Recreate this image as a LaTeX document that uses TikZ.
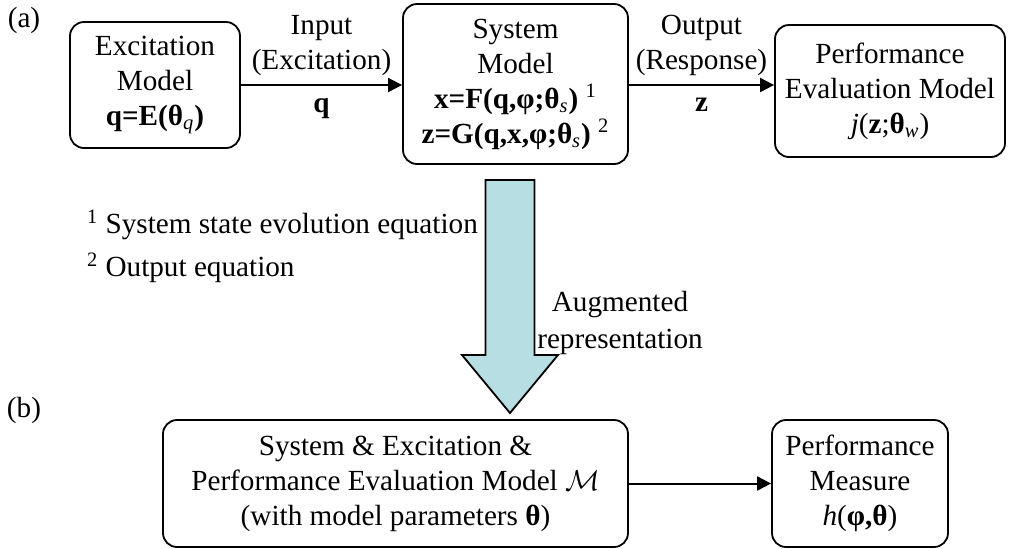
\documentclass[tikz,border=0pt]{standalone}
\usepackage{fontspec}
\setmainfont{Liberation Serif}
\usepackage{amsmath}
\usetikzlibrary{arrows.meta, positioning, calc}
\definecolor{augblue}{RGB}{183,222,227}

\begin{document}
\begin{tikzpicture}[
    x=0.5pt, y=-0.5pt,
    font=\fontsize{14.6}{17.5}\selectfont,
    >={Triangle[length=7pt, width=7pt]},
    % --- styles ---
    model_box/.style={draw, line width=0.9pt, rounded corners=7pt, align=center, inner sep=2pt},
    flow_arrow/.style={->, line width=1pt},
    aug_arrow/.style={draw, line width=0.9pt, fill=augblue},
    flow_label/.style={align=center, inner sep=2pt}
]
\useasboundingbox (0,0) rectangle (1012,548);

% ==================== (a) original description ====================
\node (LblA) at (24,20) {(a)};

\node[model_box, minimum width=85pt, minimum height=63pt] (Exc) at (155,85)
    {Excitation\\Model\\\textbf{q=E(θ}\textsubscript{\textit{q}}\textbf{)}};

\node[model_box, minimum width=112.5pt, minimum height=80pt] (Sys) at (515.5,84)
    {System\\Model\\
     \textbf{x=F(q,φ;θ}\textsubscript{\textit{s}}\textbf{)} \textsuperscript{1}\\
     \textbf{z=G(q,x,φ;θ}\textsubscript{\textit{s}}\textbf{)} \textsuperscript{2}};

\node[model_box, minimum width=115pt, minimum height=66pt] (Perf) at (890,91)
    {Performance\\Evaluation Model\\
     \textit{j}(\textbf{z};\textbf{θ}\textsubscript{\textit{w}})};

% --- signal arrows ---
\draw[flow_arrow] (Exc.east) -- (Exc.east -| Sys.west)
    node[midway, above=2pt, flow_label] {Input\\(Excitation)}
    node[midway, below=4pt, flow_label] {\textbf{q}};
\draw[flow_arrow] (Sys.east |- Exc.east) -- (Exc.east -| Perf.west)
    node[midway, above=2pt, flow_label] {Output\\(Response)}
    node[midway, below=4pt, flow_label] {\textbf{z}};

% --- footnotes ---
\node[anchor=west] (Fn1) at (80,225) {\textsuperscript{1} System state evolution equation};
\node[anchor=west] (Fn2) at (80,268) {\textsuperscript{2} Output equation};

% ==================== augmented representation ====================
\coordinate (AugTop) at (510,180);
\coordinate (AugTip) at (510,413);
\draw[aug_arrow] ($(AugTop)+(-24.5,0)$) -- ($(AugTop)+(24.5,0)$)
    -- ($(AugTip)+(24.5,-58)$) -- ($(AugTip)+(48,-58)$) -- (AugTip)
    -- ($(AugTip)+(-48,-58)$) -- ($(AugTip)+(-24.5,-58)$) -- cycle;
\node[flow_label] (AugLbl) at (620,323) {Augmented\\[1pt]representation};

% ==================== (b) augmented model ====================
\node (LblB) at (24,410) {(b)};

\node[model_box, minimum width=232.5pt, minimum height=63.5pt] (Aug) at (395.5,483.5)
    {System \& Excitation \&\\Performance Evaluation Model $\mathcal{M}$\\
     (with model parameters \textbf{θ})};

\node[model_box, minimum width=88pt, minimum height=63.5pt] (Meas) at (860,483.5)
    {Performance\\Measure\\\textit{h}(\textbf{φ,θ})};

\draw[flow_arrow] (Aug) -- (Meas);

\end{tikzpicture}
\end{document}
